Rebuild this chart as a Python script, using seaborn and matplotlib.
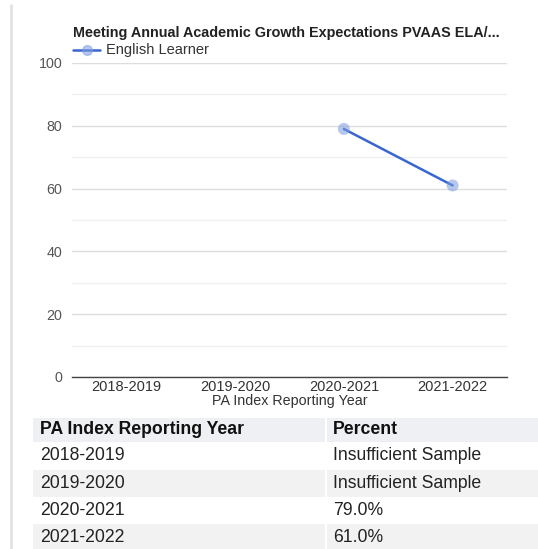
import numpy as np
import pandas as pd
import matplotlib
matplotlib.use("Agg")
import matplotlib.pyplot as plt
import seaborn as sns
from matplotlib.patches import Rectangle
from matplotlib.lines import Line2D

years = ["2018-2019", "2019-2020", "2020-2021", "2021-2022"]
percent = [np.nan, np.nan, 79.0, 61.0]
series_name = "English Learner"
title = "Meeting Annual Academic Growth Expectations PVAAS ELA/..."
x_label = "PA Index Reporting Year"
table_headers = ["PA Index Reporting Year", "Percent"]
y_ticks = [0, 20, 40, 60, 80, 100]

sns.set_theme(style="white")
plt.rcParams['font.family'] = ['Liberation Sans', 'DejaVu Sans']

W, H = 538, 549
fig = plt.figure(figsize=(W / 100, H / 100), dpi=100)
ax = fig.add_axes([72 / W, 1 - 377 / H, (507 - 72) / W, (377 - 63) / H])

df = pd.DataFrame({"idx": range(len(years)), "year": years, "value": percent})
line_color = "#3a66d0"
sns.lineplot(data=df.dropna(), x="idx", y="value", ax=ax, color=line_color,
             linewidth=1.8, legend=False, zorder=3)
ax.scatter(df["idx"], df["value"], s=75, color="#7d9be0", alpha=0.55,
           edgecolor="none", zorder=4)

ax.set_xlim(-0.5, len(years) - 0.5)
ax.set_ylim(0, 100)
ax.set_xticks(range(len(years)))
ax.set_xticklabels(years, fontsize=10.5, color="#333333")
ax.set_yticks(y_ticks)
ax.set_yticklabels([str(t) for t in y_ticks], fontsize=10.3, color="#555555")
ax.set_yticks(range(10, 100, 20), minor=True)
ax.grid(axis="y", which="major", color="#dddddd", linewidth=1.0)
ax.grid(axis="y", which="minor", color="#f0f0f0", linewidth=1.0)
ax.set_axisbelow(True)
for s in ["left", "right", "top"]:
    ax.spines[s].set_visible(False)
ax.spines["bottom"].set_color("#444444")
ax.spines["bottom"].set_linewidth(1.0)
ax.tick_params(axis="x", length=0, pad=2)
ax.tick_params(axis="y", length=0, pad=7)
ax.set_xlabel(x_label, fontsize=10.3, color="#333333", labelpad=0)
ax.set_ylabel("")

# title and legend
fig.text(73 / W, 1 - 33 / H, title, fontsize=10.4, fontweight="bold",
         color="#222222", va="center", ha="left")
fig.add_artist(Line2D([73 / W, 100 / W], [1 - 50 / H, 1 - 50 / H],
                      color=line_color, linewidth=1.8))
fig.add_artist(Line2D([86.5 / W], [1 - 50 / H], marker="o", markersize=7,
                      color="#7d9be0", alpha=0.55, linestyle="none"))
fig.text(106 / W, 1 - 50 / H, series_name, fontsize=10.5, color="#333333",
         va="center", ha="left")

# left border line
fig.add_artist(Line2D([11 / W, 11 / W], [0, 1 - 5 / H], color="#e2e2e2",
                      linewidth=2))

# table
col_x = [40, 333]
col_split = 326
tx0 = 33
rows_y = [418, 442, 470, 497, 524, 551]
fig.add_artist(Rectangle((tx0 / W, 1 - rows_y[1] / H), (W - tx0) / W,
                         (rows_y[1] - rows_y[0]) / H, color="#eef0f3", lw=0))
fig.add_artist(Line2D([col_split / W, col_split / W],
                      [1 - rows_y[1] / H, 1 - rows_y[0] / H], color="#ffffff", lw=1.5))
for j, h in enumerate(table_headers):
    fig.text(col_x[j] / W, 1 - (rows_y[0] + rows_y[1]) / 2 / H, h, fontsize=12.7,
             fontweight="bold", color="#111111", va="center", ha="left")
for i, (yr, v) in enumerate(zip(years, percent)):
    top, bot = rows_y[i + 1], rows_y[i + 2]
    if i % 2 == 1:
        fig.add_artist(Rectangle((tx0 / W, 1 - bot / H), (W - tx0) / W,
                                 (bot - top) / H, color="#f2f2f2", lw=0))
        fig.add_artist(Line2D([col_split / W, col_split / W],
                              [1 - bot / H, 1 - top / H], color="#ffffff", lw=1.5))
    label = "Insufficient Sample" if np.isnan(v) else f"{v:.1f}%"
    yc = 1 - (top + bot) / 2 / H
    fig.text(col_x[0] / W, yc, yr, fontsize=12.7, color="#222222", va="center", ha="left")
    fig.text(col_x[1] / W, yc, label, fontsize=12.7, color="#222222", va="center", ha="left")

fig.savefig("out.png", dpi=100)
